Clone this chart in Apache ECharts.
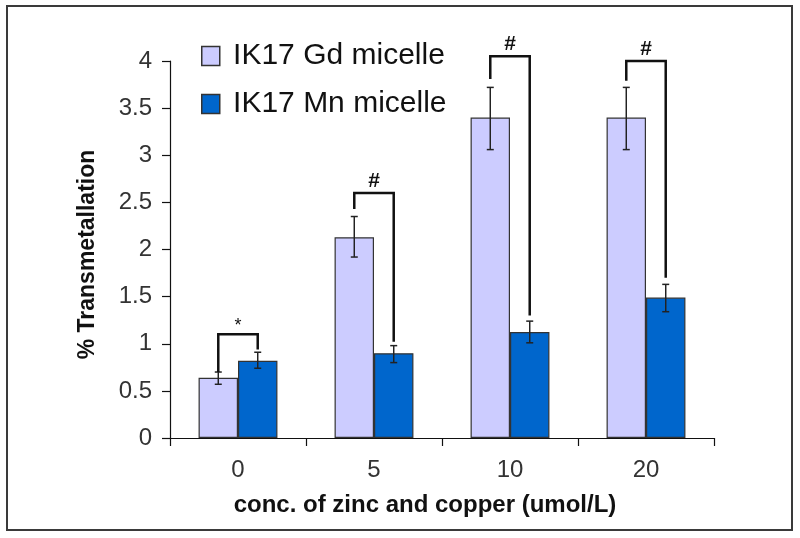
<!DOCTYPE html>
<html>
<head>
<meta charset="utf-8">
<script src="https://cdn.jsdelivr.net/npm/echarts@6/dist/echarts.min.js"></script>
<style>
html,body{margin:0;padding:0;background:#fff;}
#chart{width:800px;height:538px;}
</style>
</head>
<body>
<div id="chart"></div>
<script>
const categories = ['0', '5', '10', '20'];
const seriesNames = ['IK17 Gd micelle', 'IK17 Mn micelle'];
const gdValues = [0.64, 2.13, 3.40, 3.40];
const gdLow = [0.57, 1.92, 3.06, 3.06];
const gdHigh = [0.70, 2.35, 3.72, 3.72];
const mnValues = [0.82, 0.90, 1.125, 1.49];
const mnLow = [0.74, 0.80, 1.01, 1.34];
const mnHigh = [0.91, 0.98, 1.24, 1.63];
const bracketTop = [1.10, 2.60, 4.05, 4.00];
const bracketLeftEnd = [0.70, 2.43, 3.81, 3.79];
const bracketRightEnd = [0.94, 1.02, 1.30, 1.70];
const bracketMarks = ['*', '#', '#', '#'];
const yMin = 0, yMax = 4, yStep = 0.5;

const FONT = '"Liberation Sans", Arial, sans-serif';
const CAT_GAP = 0.42;

function barOffset(api, side) {
  const band = api.size([1, 0])[0];
  const bw = band * (1 - CAT_GAP) / 2;
  return side * bw / 2;
}

function errorRenderer(side) {
  return function (params, api) {
    const i = api.value(0);
    const lo = api.coord([i, api.value(1)]);
    const hi = api.coord([i, api.value(2)]);
    const x = lo[0] + barOffset(api, side);
    const cap = 3.5;
    const st = { stroke: '#222', lineWidth: 1.5 };
    return {
      type: 'group',
      children: [
        { type: 'line', shape: { x1: x, y1: lo[1], x2: x, y2: hi[1] }, style: st },
        { type: 'line', shape: { x1: x - cap, y1: lo[1], x2: x + cap, y2: lo[1] }, style: st },
        { type: 'line', shape: { x1: x - cap, y1: hi[1], x2: x + cap, y2: hi[1] }, style: st }
      ]
    };
  };
}

function bracketRenderer(params, api) {
  const i = api.value(0);
  const top = api.coord([i, api.value(1)]);
  const le = api.coord([i, api.value(2)]);
  const re = api.coord([i, api.value(3)]);
  const xl = top[0] + barOffset(api, -1);
  const xr = top[0] + barOffset(api, 1);
  const mark = bracketMarks[params.dataIndex];
  const isStar = mark === '*';
  return {
    type: 'group',
    children: [
      {
        type: 'polyline',
        shape: { points: [[xl, le[1]], [xl, top[1]], [xr, top[1]], [xr, re[1]]] },
        style: { stroke: '#111', lineWidth: 2.5, fill: null }
      },
      {
        type: 'text',
        style: {
          x: top[0], y: top[1] - (isStar ? 8 : 12),
          text: mark,
          align: 'center', verticalAlign: 'middle',
          font: (isStar ? 'normal 18px ' : 'bold 21px ') + FONT,
          fill: '#111'
        }
      }
    ]
  };
}

const chart = echarts.init(document.getElementById('chart'), null, { renderer: 'canvas' });
chart.setOption({
  backgroundColor: '#fff',
  animation: false,
  graphic: [{
    type: 'rect',
    shape: { x: 7, y: 6, width: 785, height: 524 },
    style: { fill: null, stroke: '#3a3a3a', lineWidth: 2 },
    silent: true
  }],
  grid: { left: 170, right: 86, top: 61, bottom: 100, containLabel: false },
  legend: {
    orient: 'vertical',
    left: 201, top: 41,
    padding: 0,
    itemWidth: 18, itemHeight: 19, itemGap: 18,
    icon: 'rect',
    data: seriesNames,
    formatter: function (n) { return ' ' + n; },
    itemStyle: { borderColor: '#333', borderWidth: 1.5 },
    textStyle: { fontFamily: FONT, fontSize: 30, color: '#111' }
  },
  xAxis: {
    type: 'category',
    data: categories,
    axisLine: { lineStyle: { color: '#111', width: 1.2 } },
    axisTick: { show: true, length: 8, lineStyle: { color: '#111', width: 1.2 } },
    axisLabel: { fontFamily: FONT, fontSize: 24, color: '#333', margin: 20 },
    name: 'conc. of zinc and copper (umol/L)',
    nameLocation: 'middle',
    nameGap: 55,
    nameTextStyle: { fontFamily: FONT, fontSize: 24, fontWeight: 'bold', color: '#111', padding: [0, 34, 0, 0] }
  },
  yAxis: {
    type: 'value',
    min: yMin, max: yMax, interval: yStep,
    splitLine: { show: false },
    axisLine: { show: true, lineStyle: { color: '#111', width: 1.2 } },
    axisTick: { show: true, length: 8, lineStyle: { color: '#111', width: 1.2 } },
    axisLabel: { fontFamily: FONT, fontSize: 24, color: '#333', margin: 18 },
    name: '% Transmetallation',
    nameLocation: 'middle',
    nameGap: 71,
    nameRotate: 90,
    nameTextStyle: { fontFamily: FONT, fontSize: 23, fontWeight: 'bold', color: '#111', padding: [0, 10, 0, 0] }
  },
  series: [
    {
      name: seriesNames[0], type: 'bar', data: gdValues,
      barGap: '0%', barCategoryGap: '42%',
      itemStyle: { color: '#CCCCFF', borderColor: '#333', borderWidth: 1.2 }
    },
    {
      name: seriesNames[1], type: 'bar', data: mnValues,
      barGap: '0%', barCategoryGap: '42%',
      itemStyle: { color: '#0066CC', borderColor: '#333', borderWidth: 1.2 }
    },
    {
      type: 'custom', clip: false, silent: true, z: 5,
      renderItem: errorRenderer(-1),
      encode: { x: 0, y: [1, 2] },
      data: categories.map(function (c, i) { return [i, gdLow[i], gdHigh[i]]; })
    },
    {
      type: 'custom', clip: false, silent: true, z: 5,
      renderItem: errorRenderer(1),
      encode: { x: 0, y: [1, 2] },
      data: categories.map(function (c, i) { return [i, mnLow[i], mnHigh[i]]; })
    },
    {
      type: 'custom', clip: false, silent: true, z: 6,
      renderItem: bracketRenderer,
      encode: { x: 0, y: [1, 2, 3] },
      data: categories.map(function (c, i) { return [i, bracketTop[i], bracketLeftEnd[i], bracketRightEnd[i]]; })
    }
  ]
});
</script>
</body>
</html>
